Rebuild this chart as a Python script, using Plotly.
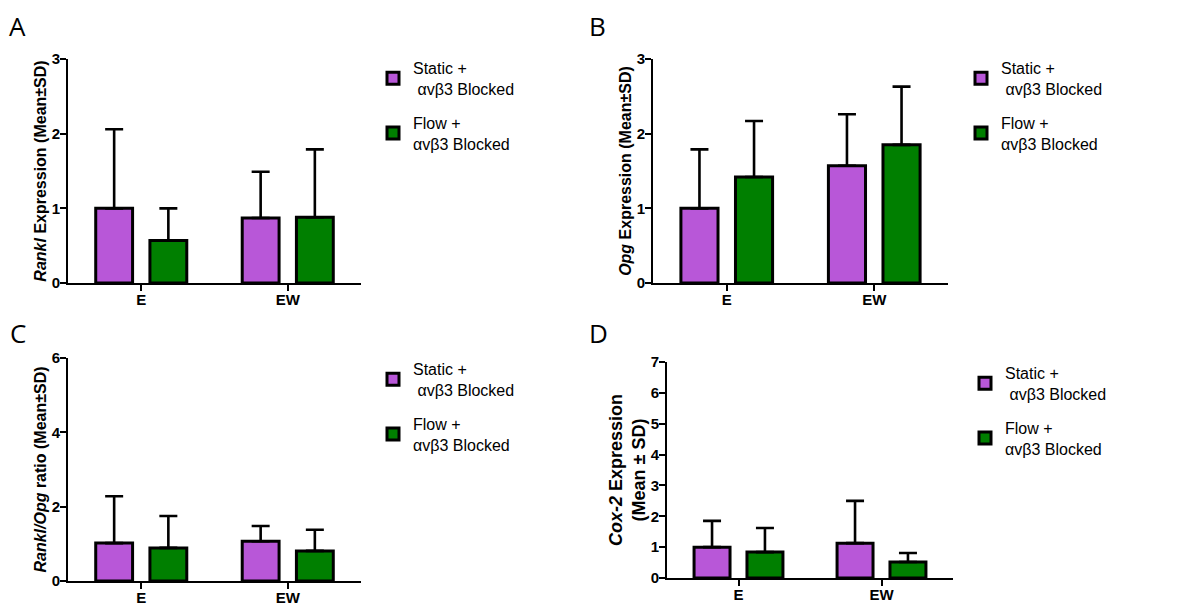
import plotly.graph_objects as go

W, H = 1188, 614
OFF = 8  # page body margin; positions below are in screenshot pixels

categories = ["E", "EW"]
series_names = ["Static +<br> αvβ3 Blocked", "Flow +<br>αvβ3 Blocked"]
groups = ["static", "flow"]
colors = ["#B857D8", "#007F00"]

# Panel A: Rankl expression
rankl_static_mean = [1.00, 0.87]
rankl_static_sd = [1.06, 0.62]
rankl_flow_mean = [0.57, 0.88]
rankl_flow_sd = [0.43, 0.91]

# Panel B: Opg expression
opg_static_mean = [1.00, 1.57]
opg_static_sd = [0.79, 0.69]
opg_flow_mean = [1.42, 1.85]
opg_flow_sd = [0.75, 0.78]

# Panel C: Rankl/Opg ratio
ratio_static_mean = [1.02, 1.07]
ratio_static_sd = [1.26, 0.41]
ratio_flow_mean = [0.89, 0.81]
ratio_flow_sd = [0.86, 0.57]

# Panel D: Cox-2 expression
cox_static_mean = [1.00, 1.13]
cox_static_sd = [0.85, 1.37]
cox_flow_mean = [0.84, 0.52]
cox_flow_sd = [0.78, 0.29]

y_ticks = {
    "A": [0, 1, 2, 3],
    "B": [0, 1, 2, 3],
    "C": [0, 2, 4, 6],
    "D": [0, 1, 2, 3, 4, 5, 6, 7],
}

panels = [
    dict(key="A", static=(rankl_static_mean, rankl_static_sd), flow=(rankl_flow_mean, rankl_flow_sd),
         title="<i>Rankl</i> Expression (Mean±SD)", ymax=3, standoff=1, tsize=16,
         px=(68, 361), py=(59, 283), legend_xy=(373, 51), letter_xy=(8, 26)),
    dict(key="B", static=(opg_static_mean, opg_static_sd), flow=(opg_flow_mean, opg_flow_sd),
         title="<i>Opg</i> Expression (Mean±SD)", ymax=3, standoff=1, tsize=16,
         px=(653, 948), py=(59, 283), legend_xy=(961, 51), letter_xy=(588, 26)),
    dict(key="C", static=(ratio_static_mean, ratio_static_sd), flow=(ratio_flow_mean, ratio_flow_sd),
         title="<i>Rankl/Opg</i> ratio (Mean±SD)", ymax=6, standoff=1, tsize=16,
         px=(68, 361), py=(358, 581), legend_xy=(373, 352), letter_xy=(9, 333)),
    dict(key="D", static=(cox_static_mean, cox_static_sd), flow=(cox_flow_mean, cox_flow_sd),
         title="<i>Cox-2</i> Expression<br>(Mean ± SD)", ymax=7, standoff=0, tsize=18,
         px=(667, 953), py=(362, 578), legend_xy=(965, 356), letter_xy=(588, 333)),
]


def fx(v):
    return (v - OFF) / W


def fy(v):
    return (H - (v - OFF)) / H


fig = go.Figure()
layout = {}
annotations = []
tickfont = dict(family="Liberation Sans", size=15, color="black", weight="bold")

for i, p in enumerate(panels):
    n = "" if i == 0 else str(i + 1)
    xa, ya = "x" + n, "y" + n
    leg = "legend" + n
    for (mean, sd), name, grp, col in [(p["static"], series_names[0], groups[0], colors[0]),
                                       (p["flow"], series_names[1], groups[1], colors[1])]:
        fig.add_trace(go.Bar(
            x=categories, y=mean, name=name, xaxis=xa, yaxis=ya, legend=leg,
            legendgroup=grp + p["key"],
            marker=dict(color=col, line=dict(color="black", width=3)),
            error_y=dict(type="data", array=sd, symmetric=False, arrayminus=[0] * len(sd),
                         color="black", thickness=2.6, width=9),
        ))
    x0, x1 = p["px"]
    yt, yb = p["py"]
    layout["xaxis" + n] = dict(
        domain=[fx(x0), fx(x1)], anchor=ya, range=[-0.5, 1.5], automargin=False,
        showline=True, linecolor="black", linewidth=2, ticks="outside", ticklen=6,
        tickwidth=2, tickcolor="black", tickfont=tickfont, showgrid=False, zeroline=False,
        ticklabelstandoff=-4, fixedrange=True,
    )
    layout["yaxis" + n] = dict(
        domain=[fy(yb), fy(yt)], anchor=xa, range=[0, p["ymax"]],
        tickvals=y_ticks[p["key"]], automargin=False,
        showline=True, linecolor="black", linewidth=2, ticks="outside", ticklen=6,
        tickwidth=2, tickcolor="black", tickfont=tickfont, showgrid=False, zeroline=False,
        ticklabelstandoff=-3,
        title=dict(text=p["title"],
                   font=dict(family="Liberation Sans", size=p["tsize"], color="black", weight="bold"),
                   standoff=p["standoff"]),
        fixedrange=True,
    )
    lx, ly = p["legend_xy"]
    layout[leg] = dict(
        x=fx(lx), y=fy(ly), xanchor="left", yanchor="top",
        font=dict(family="Liberation Sans", size=16, color="black"),
        bgcolor="rgba(0,0,0,0)", tracegroupgap=10, itemwidth=30,
    )
    ax, ay = p["letter_xy"]
    annotations.append(dict(
        text=p["key"], x=fx(ax), y=fy(ay), xref="paper", yref="paper",
        xanchor="left", yanchor="middle", showarrow=False, borderpad=0,
        font=dict(family="Open Sans", size=26, color="black"),
    ))

fig.update_layout(
    template="none",
    width=W, height=H, margin=dict(l=0, r=0, t=0, b=0, pad=0, autoexpand=False),
    paper_bgcolor="white", plot_bgcolor="white",
    barmode="group", bargap=0.26, bargroupgap=0.32,
    annotations=annotations, showlegend=True,
    **layout,
)

fig.write_html("out.html")
